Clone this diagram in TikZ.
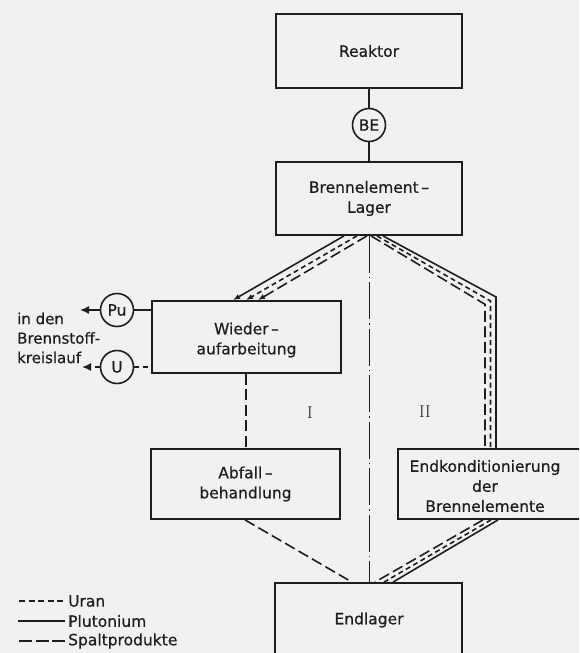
\documentclass[tikz,border=0pt]{standalone}
\usepackage{fontspec}
\newfontfamily\dv[FakeBold=0.6]{DejaVu Sans}
\usetikzlibrary{arrows.meta,calc}
\definecolor{paper}{RGB}{241,241,239}
\definecolor{ink}{RGB}{30,30,30}
\tikzset{
  box/.style={draw=ink, line width=1.8pt, minimum width=186pt, inner sep=0pt, align=center,
              font=\dv\fontsize{15.5}{20}\selectfont, text=ink},
  txt/.style={font=\dv\fontsize{15.5}{20}\selectfont, text=ink, inner sep=0pt},
  circ/.style={circle, draw=ink, line width=1.6pt, minimum size=33pt, inner sep=0pt,
               font=\dv\fontsize{15.5}{20}\selectfont, text=ink},
  conn/.style={draw=ink, line width=1.6pt},
  pluto/.style={conn},
  uran/.style={conn, dash pattern=on 5pt off 3.5pt},
  spalt/.style={conn, dash pattern=on 11pt off 4.5pt},
  centre/.style={draw=ink, line width=1pt, dash pattern=on 37pt off 4pt on 1.5pt off 4pt},
  tipbig/.style={-{Latex[length=9pt,width=8pt]}},
  tipsmall/.style={-{Latex[length=7pt,width=5.5pt]}},
  roman/.style={font=\rmfamily\fontsize{17}{17}\selectfont, text=ink, inner sep=0pt}
}
\begin{document}
\begin{tikzpicture}[x=1pt,y=-1pt]
\useasboundingbox (0,0) rectangle (579,653);
\fill[paper] (0,0) rectangle (579,653);
\begin{scope}
\clip (0,0) rectangle (579,653);

% boxes
\node[box, minimum height=74pt] (reaktor) at (369,51) {Reaktor};
\node[circ] (be) at (369,125) {BE};
\node[box, minimum height=73pt] (lager) at (369,198.5) {Brennelement\,–\\Lager};
\node[box, minimum width=189pt, minimum height=72pt] (wieder) at (246.5,337) {};
\node[txt, align=center] (wiedertext) at (246.5,340) {Wieder\,–\\aufarbeitung};
\node[box, minimum width=189pt, minimum height=70pt] (abfall) at (245.5,484) {Abfall\,–\\behandlung};
\node[box, minimum width=222pt, minimum height=70pt] (endk) at (509,484) {};
\node[txt, align=center] (endktext) at (485,486) {Endkonditionierung\\der\\Brennelemente};
\node[box, minimum width=187pt, minimum height=117pt] (endlager) at (368.5,641.5) {};
\node[txt] (endlagertext) at (369,620) {Endlager};

% Pu / U
\node[circ] (pu) at (117,310) {Pu};
\node[circ] (u) at (117,367) {U};
\coordinate (puout) at (80,310);
\coordinate (uout) at (82,367);
\node[txt, align=left, anchor=west, font=\dv\fontsize{15}{19.5}\selectfont] (kreis) at (17,338) {in den\\Brennstoff-\\kreislauf};

% numerals
\node[roman] (r1) at (310,413) {I};
\node[roman] (r2) at (425,412) {II};

% centre line
\draw[centre] (lager.south) -- (369,0 |- endlager.north);

% reactor chain
\draw[conn] (reaktor.south) -- (be.north);
\draw[conn] (be.south) -- (lager.north);

% Pu and U outputs
\draw[pluto] (pu.east) -- (pu.east -| wieder.west);
\draw[pluto, tipbig] (pu.west) -- (puout);
\draw[uran] (u.east) -- (u.east -| wieder.west);
\draw[uran, tipbig] (u.west) -- (uout);

% left bundle: Lager -> Wiederaufarbeitung
\draw[pluto, tipsmall] (344,0 |- lager.south) -- (233,0 |- wieder.north);
\draw[uran, tipsmall] (357,0 |- lager.south) -- (246,0 |- wieder.north);
\draw[spalt, tipsmall] (367,0 |- lager.south) -- (258,0 |- wieder.north);

% right bundle: Lager -> Endkonditionierung
\draw[pluto] (383,0 |- lager.south) -- (496,297) -- (496,0 |- endk.north);
\draw[uran] (377,0 |- lager.south) -- (490.5,301) -- (490.5,0 |- endk.north);
\draw[spalt] (371,0 |- lager.south) -- (485,304.3) -- (485,0 |- endk.north);

% Wiederaufarbeitung -> Abfallbehandlung
\draw[spalt] (246,0 |- wieder.south) -- (246,0 |- abfall.north);

% Abfallbehandlung -> Endlager
\draw[spalt] (245,0 |- abfall.south) -- (352,0 |- endlager.north);

% Endkonditionierung -> Endlager
\draw[pluto] (498,0 |- endk.south) -- (393,0 |- endlager.north);
\draw[uran] (491,0 |- endk.south) -- (384,0 |- endlager.north);
\draw[spalt] (483,0 |- endk.south) -- (375,0 |- endlager.north);

% legend
\coordinate (lu1) at (19,601); \coordinate (lu2) at (65,601);
\coordinate (lp1) at (18,621); \coordinate (lp2) at (65,621);
\coordinate (ls1) at (19,641); \coordinate (ls2) at (65,641);
\draw[uran, dash pattern=on 6pt off 3.5pt] (lu1) -- (lu2);
\draw[pluto] (lp1) -- (lp2);
\draw[spalt, dash pattern=on 13pt off 3.5pt] (ls1) -- (ls2);
\node[txt, anchor=west] (leg1) at (68,601) {Uran};
\node[txt, anchor=west] (leg2) at (68,621) {Plutonium};
\node[txt, anchor=west] (leg3) at (68,641) {Spaltprodukte};
\end{scope}
\end{tikzpicture}
\end{document}
